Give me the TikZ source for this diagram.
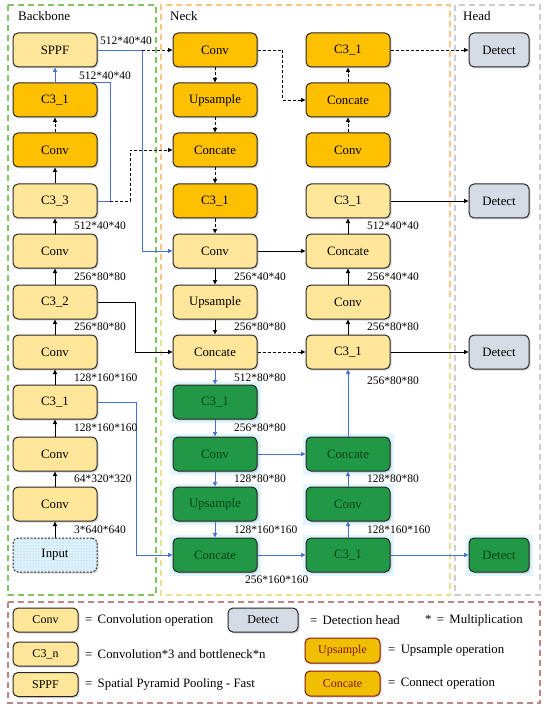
\documentclass[tikz,border=0pt]{standalone}
\usepackage{fontspec}
\setmainfont{Liberation Serif}
\usetikzlibrary{arrows.meta,shadows,patterns,backgrounds,calc}
\definecolor{lyel}{RGB}{255,230,153}
\definecolor{oran}{RGB}{255,192,0}
\definecolor{grn}{RGB}{32,152,70}
\definecolor{grnt}{RGB}{8,66,24}
\definecolor{dgrey}{RGB}{214,220,229}
\definecolor{bblue}{RGB}{72,112,212}
\definecolor{gold}{RGB}{240,192,0}
\definecolor{dred}{RGB}{130,20,20}
\definecolor{pgreen}{RGB}{130,195,100}
\definecolor{porange}{RGB}{248,200,130}
\definecolor{pyellow}{RGB}{228,226,140}
\definecolor{pgrey}{RGB}{205,205,205}
\definecolor{ppink}{RGB}{185,135,135}
\definecolor{inpc}{RGB}{225,243,250}
\tikzset{
  box/.style={draw=black!85, line width=1pt, rounded corners=5pt, minimum width=84pt,
    minimum height=34pt, inner sep=0pt, font=\fontsize{12.8}{14}\selectfont,
    drop shadow={shadow xshift=1.5pt, shadow yshift=-1.5pt, opacity=0.3}},
  by/.style={box, fill=lyel},
  bo/.style={box, fill=oran},
  bg/.style={box, fill=grn, text=grnt},
  bd/.style={box, fill=dgrey, minimum width=60pt},
  lgbox/.style={box, minimum width=65pt, minimum height=24pt, font=\fontsize{12}{14}\selectfont},
  lbl/.style={anchor=west, font=\fontsize{11.5}{13}\selectfont, inner sep=0pt},
  ltxt/.style={anchor=west, font=\fontsize{12.8}{14}\selectfont, inner sep=0pt},
  ttl/.style={anchor=west, font=\fontsize{13}{15}\selectfont, inner sep=0pt},
  ar/.style={-{Triangle[length=4.5pt,width=4pt]}, line width=0.9pt, draw=black},
  da/.style={ar, dash pattern=on 3pt off 2pt},
  ba/.style={ar, draw=bblue},
  bl/.style={line width=0.9pt, draw=bblue},
  panel/.style={line width=1.2pt, dash pattern=on 6pt off 4pt},
}
\begin{document}
\begin{tikzpicture}[x=1pt,y=-1pt]
\useasboundingbox (0,0) rectangle (550,711);
% panels
\draw[panel, draw=pgreen] (8,5) rectangle (156,595);
\draw[panel, draw=porange] (161,300) -- (161,5) -- (450,5) -- (450,300);
\draw[panel, draw=pyellow] (161,300) -- (161,595) -- (450,595) -- (450,300);
\draw[panel, draw=pgrey, line width=1.8pt] (455,5) rectangle (540,595);
\draw[panel, draw=ppink] (8,602) rectangle (540,703);
\node[ttl] (tb) at (18,16) {Backbone};
\node[ttl] (tn) at (170,16) {Neck};
\node[ttl] (th) at (463,16) {Head};
% backbone
\node[by] (b0) at (55,50) {SPPF};
\node[bo] (b1) at (55,100) {C3\_1};
\node[bo] (b2) at (55,150) {Conv};
\node[by] (b3) at (55,201) {C3\_3};
\node[by] (b4) at (55,251) {Conv};
\node[by] (b5) at (55,302) {C3\_2};
\node[by] (b6) at (55,352) {Conv};
\node[by] (b7) at (55,402) {C3\_1};
\node[by] (b8) at (55,454) {Conv};
\node[by] (b9) at (55,504) {Conv};
\node[box, fill=inpc, dash pattern=on 2pt off 1.5pt, postaction={pattern=dots, pattern color=cyan!50!blue!60}] (b10) at (55,555) {Input};
% neck column 1
\node[bo] (n0) at (215,50) {Conv};
\node[bo] (n1) at (215,100) {Upsample};
\node[bo] (n2) at (215,150) {Concate};
\node[bo] (n3) at (215,201) {C3\_1};
\node[by] (n4) at (215,251) {Conv};
\node[by] (n5) at (215,302) {Upsample};
\node[by] (n6) at (215,352) {Concate};
\node[bg] (n7) at (215,402) {C3\_1};
\node[bg] (n8) at (215,454) {Conv};
\node[bg] (n9) at (215,504) {Upsample};
\node[bg] (n10) at (215,555) {Concate};
% neck column 2
\node[bo] (m0) at (348,50) {C3\_1};
\node[bo] (m1) at (348,100) {Concate};
\node[bo] (m2) at (348,150) {Conv};
\node[by] (m3) at (348,201) {C3\_1};
\node[by] (m4) at (348,251) {Concate};
\node[by] (m5) at (348,302) {Conv};
\node[by] (m6) at (348,352) {C3\_1};
\node[bg] (m8) at (348,454) {Concate};
\node[bg] (m9) at (348,504) {Conv};
\node[bg] (m10) at (348,555) {C3\_1};
% head
\node[bd] (h0) at (499,50) {Detect};
\node[bd] (h3) at (499,201) {Detect};
\node[bd] (h6) at (499,352) {Detect};
\node[bg, minimum width=60pt] (h10) at (499,555) {Detect};
% green halo
\begin{scope}[on background layer]
\foreach \n in {n7,n8,n9,n10,m8,m9,m10,h10}
  \fill[cyan!12] ($(\n.north west)+(-3pt,3pt)$) rectangle ($(\n.south east)+(3pt,-3pt)$);
\end{scope}
% backbone connectors
\draw[ar] (b10) -- (b9);
\draw[ar] (b9) -- (b8);
\draw[ar] (b8) -- (b7);
\draw[ar] (b7) -- (b6);
\draw[ar] (b6) -- (b5);
\draw[ar] (b5) -- (b4);
\draw[ar] (b4) -- (b3);
\draw[ar] (b3) -- (b2);
\draw[da] (b2) -- (b1);
\coordinate (c1) at (110,201);
\coordinate (c2) at (110,82);
\coordinate (c4) at (130,201);
\draw[ba] (b3.east) -- (c1) -- (c2) -| (b0.south);
\draw[da] (c1) -- (c4) |- (n2.west);
\coordinate (s1) at (142,50);
\draw[bl] (b0.east) -- (s1);
\draw[ba] (s1) |- (n4.west);
\draw[da] (s1) -- (n0.west);
\coordinate (k1) at (135,302);
\draw[ar] (b5.east) -- (k1) |- (n6.west);
\coordinate (k2) at (136,402);
\draw[ba] (b7.east) -- (k2) |- (n10.west);
% neck col1
\draw[da] (n0) -- (n1);
\draw[da] (n1) -- (n2);
\draw[da] (n2) -- (n3);
\draw[da] (n3) -- (n4);
\draw[ar] (n4) -- (n5);
\draw[ar] (n5) -- (n6);
\draw[ba] (n6) -- (n7);
\draw[ba] (n7) -- (n8);
\draw[ba] (n8) -- (n9);
\draw[ba] (n9) -- (n10);
\coordinate (q1) at (282,50);
\draw[da] (n0.east) -- (q1) |- (m1.west);
% neck col2
\draw[da] (m2) -- (m1);
\draw[da] (m1) -- (m0);
\draw[da] (m0) -- (h0);
\draw[ar] (m6) -- (m5);
\draw[ar] (m5) -- (m4);
\draw[ar] (m4) -- (m3);
\draw[ar] (n4) -- (m4);
\draw[ar] (m3) -- (h3);
\draw[ar] (m6) -- (h6);
\draw[da] (n6) -- (m6);
\draw[ba] (m8) -- (m6);
\draw[ba] (n8) -- (m8);
\draw[ba] (m9) -- (m8);
\draw[ba] (m10) -- (m9);
\draw[ba] (n10) -- (m10);
\draw[ba] (m10) -- (h10);
% labels
\node[lbl] (l1) at (100,41) {512*40*40};
\node[lbl] (l2) at (79,76) {512*40*40};
\node[lbl] (l3) at (74,226) {512*40*40};
\node[lbl] (l4) at (74,277) {256*80*80};
\node[lbl] (l5) at (74,327) {256*80*80};
\node[lbl] (l6) at (74,378) {128*160*160};
\node[lbl] (l7) at (74,428) {128*160*160};
\node[lbl] (l8) at (74,479) {64*320*320};
\node[lbl] (l9) at (74,530) {3*640*640};
\node[lbl] (l10) at (234,277) {256*40*40};
\node[lbl] (l11) at (234,327) {256*80*80};
\node[lbl] (l12) at (234,378) {512*80*80};
\node[lbl] (l13) at (234,428) {256*80*80};
\node[lbl] (l14) at (234,479) {128*80*80};
\node[lbl] (l15) at (234,530) {128*160*160};
\node[lbl] (l16) at (245,580) {256*160*160};
\node[lbl] (l17) at (367,226) {512*40*40};
\node[lbl] (l18) at (367,277) {256*40*40};
\node[lbl] (l19) at (367,327) {256*80*80};
\node[lbl] (l20) at (367,381) {256*80*80};
\node[lbl] (l21) at (367,479) {128*80*80};
\node[lbl] (l22) at (367,530) {128*160*160};
% legend
\node[lgbox, fill=lyel] (g1) at (45.5,620) {Conv};
\node[ltxt] (t1) at (85,620) {= \,Convolution operation};
\node[lgbox, fill=lyel] (g2) at (45.5,654) {C3\_n};
\node[ltxt] (t2) at (85,654) {= \,Convolution*3 and bottleneck*n};
\node[lgbox, fill=lyel] (g3) at (45.5,684.5) {SPPF};
\node[ltxt] (t3) at (85,684.5) {= \,Spatial Pyramid Pooling - Fast};
\node[lgbox, fill=dgrey, minimum width=70pt] (g4) at (263,620) {Detect};
\node[ltxt] (t4) at (310,620) {= \,Detection head};
\node[ltxt] (t5) at (425,620) {* \,= \,Multiplication};
\node[lgbox, fill=gold, draw=dred, text=dred, minimum width=75pt, minimum height=25pt] (g5) at (342.5,650.5) {Upsample};
\node[ltxt] (t6) at (388,650.5) {= \,Upsample operation};
\node[lgbox, fill=gold, draw=dred, text=dred, minimum width=75pt, minimum height=25pt] (g6) at (342.5,683.5) {Concate};
\node[ltxt] (t7) at (388,683.5) {= \,Connect operation};
\end{tikzpicture}
\end{document}
